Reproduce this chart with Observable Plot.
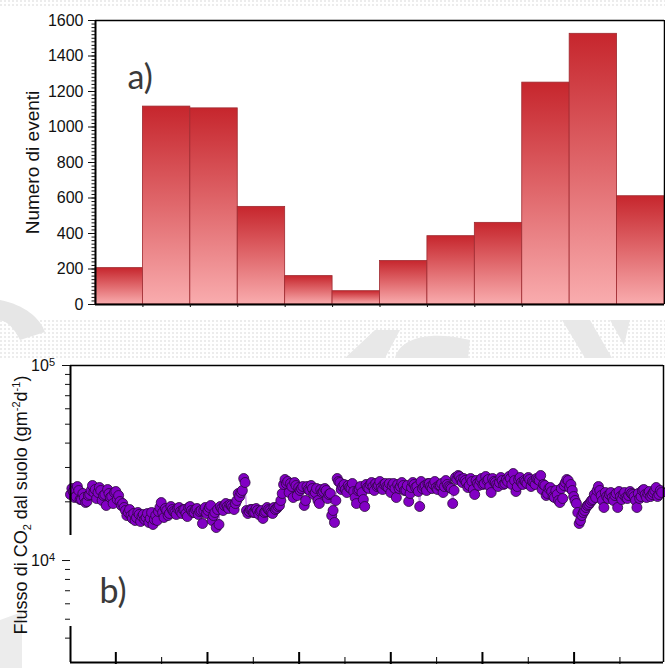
<!DOCTYPE html>
<html><head><meta charset="utf-8">
<script src="https://cdn.jsdelivr.net/npm/d3@7"></script>
<script src="https://cdn.jsdelivr.net/npm/@observablehq/plot@0.6"></script>
<style>
html,body{margin:0;padding:0;background:#fff;}
#wrap{position:relative;width:665px;height:668px;overflow:hidden;font-family:"Liberation Sans",Arial,sans-serif;}
#wrap svg{position:absolute;left:0;overflow:visible;}
#wrap svg text{font-family:"Liberation Sans",Arial,sans-serif;}
#wrap svg .hand text{font-family:Lato,sans-serif;}
#wm{position:absolute;left:0;top:0;}
</style></head><body><div id="wrap"></div>
<script>
// ---------- data: panel a) ----------
const binIndex = [1,2,3,4,5,6,7,8,9,10,11,12];
const eventCounts = [205,1115,1105,550,160,75,245,385,460,1250,1525,610];
const countTickLabels = [0,200,400,600,800,1000,1200,1400,1600];

// ---------- data: panel b) ----------
const fluxDayStep = 3;
// readings on whole steps (day = i*3)
const fluxValues = [
21800,22590,21290,22860,20550,21040,20070,21800,24250,23130,22320,22860,21540,19150,22060,21290,22320,20550,20070,19600,
18050,17630,17010,17420,16620,17220,16810,16230,17420,16430,15300,17010,17840,19830,16620,18050,17420,18260,17630,18480,
17840,18260,17420,18700,18050,17630,18480,17840,15480,18700,18050,19150,17010,14760,15300,18480,19150,18920,19370,18700,
19600,22060,22320,26340,18050,17840,18260,17630,18050,17840,16430,17840,18260,17630,18700,18480,19150,22060,26030,25420,
24830,21040,24250,23680,23400,19150,23960,22860,23400,22320,20310,23130,22590,22860,21800,17010,15670,26340,25120,23960,
23130,24250,23400,22590,19600,23130,22320,18920,23680,24540,23960,24830,24250,23680,24540,23960,24830,24250,23400,24540,
23960,24250,22860,20070,23680,24540,23960,18920,23400,24250,24830,23960,24540,23680,24250,24830,23960,24540,23680,19600,
26650,27290,26030,26340,25120,24250,25420,21800,24830,25720,24540,26970,26030,22320,25420,24540,25120,25720,24830,25420,
26340,27930,22590,26030,25120,25720,24830,26030,25420,24540,26030,27290,24540,21540,23400,22590,21040,21800,19830,20790,
25120,25720,24540,21290,19600,15480,17010,18050,19150,19830,20550,21040,23960,21540,18700,21290,21800,21040,21540,18700,
21290,21800,21040,21540,22060,21290,18700,20790,22860,21800,22060,21290,22320,23680,21800,22320
];
// readings on half steps (day = i*3 + 1.5)
const fluxValuesHalf = [
23400,21040,23960,20550,22060,19830,21540,22860,22320,20790,23680,20310,21800,23130,21040,19600,22590,21540,19150,18700,
17010,18260,16430,16040,17630,15850,17220,16620,15670,17630,16230,16040,18700,
17630,18480,17010,18920,17840,17220,18700,17420,18260,16810,18920,17630,18260,17220,18050,
18050,17420,18700,16040,17630,18260,18920,18050,19600,18480,19150,18260,20310,
21290,22860,25120,
17420,18260,17630,18480,17220,18050,17630,18700,18050,17420,18260,18920,20310,
24540,24830,22320,23960,25120,21540,22860,23960,20310,23130,24250,21800,23400,19600,22320,23400,20790,22060,18050,20310,
25420,23130,24540,22320,23680,24830,21040,22860,23960,20550,24540,23400,25120,22860,23960,25420,23130,24830,23680,22320,
24830,21040,23400,25120,22860,24250,22060,25120,23680,22590,25420,23960,22860,24830,23400,25420,23130,24250,22320,25720,
23960,23400,22860,
26030,26970,25120,25720,23680,26340,23130,25720,24250,26340,24830,25720,23960,26340,25120,23960,26650,24540,26030,26970,
24540,25720,23960,26650,24540,25420,26650,23960,25120,26340,25720,23130,24250,22060,23680,21290,22860,20310,23400,24250,
26030,23680,22860,20310,17630,16040,17630,18700,19370,20310,21800,22860,
22860,20310,22320,20790,22320,20310,22060,22590,20550,22320,20790,22590,21800,20310,22060,21290,23130,21040,22590,21800,
22860,21290,22860
];
const fluxMajorTicks = [10000, 100000];
const fluxMinorTicks = [4000,5000,6000,7000,8000,9000,20000,30000,40000,50000,60000,70000,80000,90000];
const dayMajorTicks = [50,150,250,350,450,550];
const dayMinorTicks = [100,200,300,400,500,600];

const FONT = "Liberation Sans, Arial, sans-serif";
const bars = binIndex.map((b, i) => ({b, n: eventCounts[i]}));
const fluxData = [
  ...fluxValues.map((v, i) => ({day: i * fluxDayStep, flux: v})),
  ...fluxValuesHalf.map((v, i) => ({day: i * fluxDayStep + fluxDayStep / 2, flux: v}))
].sort((a, b) => a.day - b.day);

const barGradient = () => {
  const defs = d3.create("svg:defs");
  const lg = defs.append("linearGradient").attr("id", "barGrad")
    .attr("x1", 0).attr("y1", 0).attr("x2", 0).attr("y2", 1);
  lg.append("stop").attr("offset", "0%").attr("stop-color", "#c6262d");
  lg.append("stop").attr("offset", "50%").attr("stop-color", "#e0686c");
  lg.append("stop").attr("offset", "100%").attr("stop-color", "#f9acae");
  return defs.node();
};

const topPlot = Plot.plot({
  width: 665, height: 320,
  marginLeft: 95, marginRight: 1, marginTop: 20, marginBottom: 16,
  style: {fontFamily: FONT, fontSize: "16px", background: "transparent", color: "#111"},
  x: {domain: [0, 12], label: null},
  y: {domain: [0, 1600], label: null},
  marks: [
    barGradient,
    Plot.frame({fill: "#fff", stroke: null}),
    Plot.rect(bars, {x1: d => d.b - 1, x2: d => d.b, y1: 0, y2: "n",
      fill: "url(#barGrad)", stroke: "#9e2a30", strokeWidth: 0.8}),
    Plot.ruleY([1600], {stroke: "#000", strokeWidth: 1.5}),
    Plot.ruleX([12], {stroke: "#000", strokeWidth: 1.5}),
    Plot.ruleY([0], {stroke: "#000", strokeWidth: 2}),
    Plot.ruleX([0], {stroke: "#000", strokeWidth: 2}),
    Plot.axisY(d3.range(0, 1601, 20), {tickSize: 3.5, tickFormat: () => "", label: null}),
    Plot.axisY(countTickLabels, {tickSize: 7, tickPadding: 5, fontSize: 16, tickFormat: d => String(d), label: null}),
    Plot.axisX(d3.range(1, 10), {tickSize: 3, tickFormat: () => "", label: null}),
    Plot.text(["Numero di eventi"], {frameAnchor: "left", textAnchor: "middle", rotate: -90, dx: -63, fontSize: 19, fill: "#111"}),
    Plot.text(["a)"], {frameAnchor: "top-left", textAnchor: "start", dx: 32, dy: 44,
      fontSize: 34, className: "hand", fill: "#3a3a3a"})
  ]
});

const whiteBox = () => d3.create("svg:rect")
  .attr("x", 69).attr("y", 215).attr("width", 330).attr("height", 91)
  .attr("fill", "#fff").node();

const powerLabels = (index, scales, values, dims) => {
  const g = d3.create("svg:g").attr("font-size", 16).attr("fill", "#111");
  for (const v of fluxMajorTicks) {
    const t = g.append("text").attr("x", dims.marginLeft - 15).attr("y", scales.y(v))
      .attr("text-anchor", "end").attr("dy", "0.35em");
    t.append("tspan").text("10");
    t.append("tspan").attr("dy", "-0.45em").attr("font-size", 11).text(Math.round(Math.log10(v)));
  }
  return g.node();
};

const inwardTicks = (vals, len, w) => (index, scales, values, dims) => {
  const g = d3.create("svg:g").attr("stroke", "#000").attr("stroke-width", w);
  const yb = dims.height - dims.marginBottom;
  for (const v of vals) {
    const x = scales.x(v);
    g.append("line").attr("x1", x).attr("x2", x).attr("y1", yb + 2).attr("y2", yb - len);
  }
  return g.node();
};

const fluxLabel = (index, scales, values, dims) => {
  const t = d3.create("svg:text").attr("font-size", 18).attr("fill", "#111")
    .attr("text-anchor", "middle").attr("dy", "0.35em")
    .attr("transform", "translate(21,185) rotate(-90)");
  t.append("tspan").text("Flusso di CO");
  t.append("tspan").attr("dy", 4).attr("font-size", 11).text("2");
  t.append("tspan").attr("dy", -4).text(" dal suolo (gm");
  t.append("tspan").attr("dy", -7).attr("font-size", 11).text("-2");
  t.append("tspan").attr("dy", 7).text("d");
  t.append("tspan").attr("dy", -7).attr("font-size", 11).text("-1");
  t.append("tspan").attr("dy", 7).text(")");
  return t.node();
};

const bottomPlot = Plot.plot({
  width: 665, height: 348,
  marginLeft: 70, marginRight: 2, marginTop: 45, marginBottom: 6,
  style: {fontFamily: FONT, fontSize: "16px", background: "transparent", color: "#111"},
  x: {domain: [0, 647], axis: null},
  y: {type: "log", domain: [3000, 100000], label: null},
  marks: [
    Plot.frame({fill: "#fff", stroke: null}),
    Plot.line(fluxData, {x: "day", y: "flux", stroke: "#a850dc", strokeWidth: 0.8}),
    Plot.dot(fluxData, {x: "day", y: "flux", r: 5, fill: "#8200c4", stroke: "#2a0838", strokeWidth: 0.8}),
    Plot.ruleY([100000], {stroke: "#000", strokeWidth: 1.5}),
    Plot.ruleX([647], {stroke: "#000", strokeWidth: 1.5}),
    Plot.ruleX([0], {stroke: "#000", strokeWidth: 2}),
    whiteBox,
    Plot.ruleY([3000], {stroke: "#000", strokeWidth: 2}),
    Plot.axisY(fluxMinorTicks, {tickSize: 5, tickFormat: () => "", label: null}),
    Plot.axisY(fluxMajorTicks, {tickSize: 8, tickFormat: () => "", label: null}),
    powerLabels,
    inwardTicks(dayMajorTicks, 10, 2),
    inwardTicks(dayMinorTicks, 5, 1),
    Plot.text(["b)"], {frameAnchor: "top-left", textAnchor: "start", dx: 29, dy: 213,
      fontSize: 34, className: "hand", fill: "#3a3a3a"}),
    fluxLabel
  ]
});

const wrap = document.getElementById("wrap");

// faint watermark of the source page, behind both panels
const wm = d3.select(wrap).append("svg").attr("id", "wm").attr("width", 665).attr("height", 668);
const pat = wm.append("defs").append("pattern").attr("id", "dots")
  .attr("width", 4).attr("height", 4).attr("patternUnits", "userSpaceOnUse");
pat.append("rect").attr("width", 2).attr("height", 2).attr("fill", "#ececec");
wm.append("rect").attr("x", 0).attr("y", 0).attr("width", 665).attr("height", 6).attr("fill", "url(#dots)");
wm.append("rect").attr("x", 0).attr("y", 318).attr("width", 665).attr("height", 40).attr("fill", "url(#dots)");
wm.append("path").attr("d", "M0,300 C25,305 40,318 45,332 L20,340 C14,328 8,322 0,320 Z").attr("fill", "#e6e6e6");
wm.append("path").attr("d", "M345,358 L375,330 L400,330 L385,358 Z M395,358 C400,338 430,330 470,340 L468,358 Z").attr("fill", "#e8e8e8");
wm.append("path").attr("d", "M562,320 L590,320 L612,358 L585,358 Z M610,320 L630,320 L624,345 Z").attr("fill", "#e8e8e8");
wm.append("path").attr("d", "M0,620 L22,612 L22,668 L0,668 Z").attr("fill", "#ececec");

topPlot.style.top = "0px";
bottomPlot.style.top = "320px";
wrap.appendChild(topPlot);
wrap.appendChild(bottomPlot);
</script>
</body></html>
